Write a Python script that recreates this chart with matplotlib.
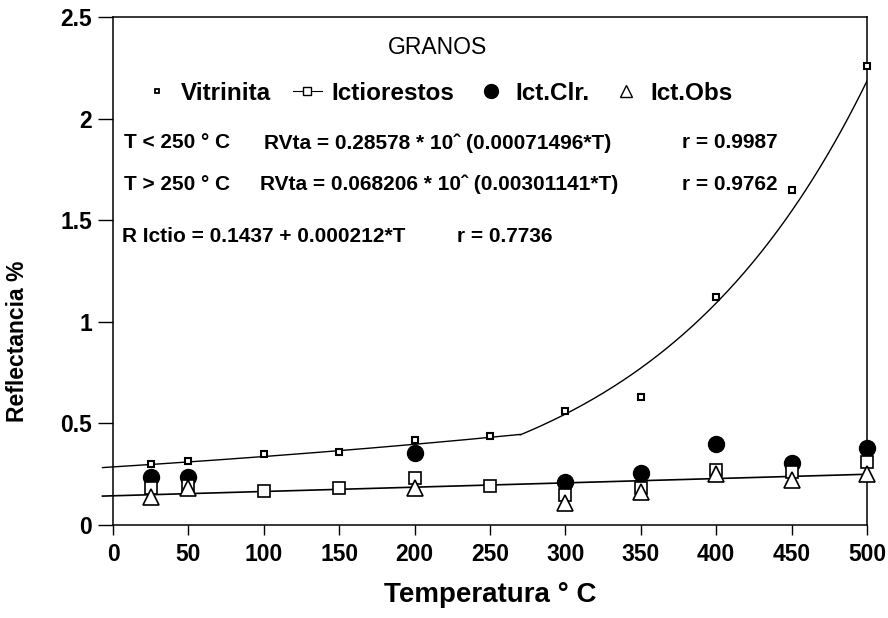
import numpy as np
import matplotlib
matplotlib.use("Agg")
import matplotlib.pyplot as plt
from matplotlib.lines import Line2D

plt.rcParams["font.family"] = ["Liberation Sans", "DejaVu Sans"]

# --- data ---
temps = [25, 50, 100, 150, 200, 250, 300, 350, 400, 450, 500]
vitrinita = [0.30, 0.315, 0.35, 0.36, 0.42, 0.44, 0.56, 0.63, 1.12, 1.65, 2.26]

ict_temps = [25, 50, 100, 150, 200, 250, 300, 350, 400, 450, 500]
ictiorestos = [0.18, 0.19, 0.165, 0.18, 0.23, 0.19, 0.15, 0.18, 0.27, 0.26, 0.31]

clr_temps = [25, 50, 200, 300, 350, 400, 450, 500]
ict_clr = [0.235, 0.235, 0.355, 0.21, 0.255, 0.40, 0.305, 0.38]

obs_temps = [25, 50, 200, 300, 350, 400, 450, 500]
ict_obs = [0.14, 0.18, 0.18, 0.11, 0.16, 0.25, 0.22, 0.25]

# fit coefficients printed on the chart
vt_low = (0.28578, 0.00071496)
vt_high = (0.068206, 0.00301141)
ictio_fit = (0.1437, 0.000212)
t_break = 270

fig = plt.figure(figsize=(8.88, 6.18), dpi=100)
ax = fig.add_axes([0.1273, 0.1505, 0.8491, 0.822])

# fitted curves
t1 = np.linspace(-7, t_break, 200)
ax.plot(t1, vt_low[0] * 10 ** (vt_low[1] * t1), color="black", lw=1.0, clip_on=False)
t2 = np.linspace(t_break, 500, 200)
ax.plot(t2, vt_high[0] * 10 ** (vt_high[1] * t2), color="black", lw=1.0)
t3 = np.linspace(-7, 500, 50)
ax.plot(t3, ictio_fit[0] + ictio_fit[1] * t3, color="black", lw=1.2, clip_on=False)

# points
ax.plot(clr_temps, ict_clr, "o", ms=11.5, mfc="black", mec="black", ls="none",
        zorder=3, clip_on=False)
ax.plot(ict_temps, ictiorestos, "s", ms=8, mfc="white", mec="black", mew=1.2,
        ls="none", zorder=4, clip_on=False)
ax.plot(obs_temps, ict_obs, "^", ms=11.5, mfc="white", mec="black", mew=1.2,
        ls="none", zorder=5, clip_on=False)
ax.plot(temps, vitrinita, "s", ms=4, mfc="white", mec="black", mew=1.5,
        ls="none", zorder=6, clip_on=False)

ax.set_xlim(0, 500)
ax.set_ylim(0, 2.5)
ax.set_xticks(range(0, 501, 50))
ax.set_yticks([0, 0.5, 1, 1.5, 2, 2.5])
ax.set_yticklabels(["0", "0.5", "1", "1.5", "2", "2.5"])
ax.tick_params(axis="y", direction="out", length=11, width=1, labelsize=16.5, pad=4)
ax.tick_params(axis="x", direction="out", length=7, width=1, labelsize=16.5, pad=6)
for lab in ax.get_xticklabels() + ax.get_yticklabels():
    lab.set_fontweight("bold")
for sp in ax.spines.values():
    sp.set_linewidth(1.1)

ax.set_xlabel("Temperatura ° C", fontsize=20, fontweight="bold")
ax.xaxis.set_label_coords(0.5, -0.113)
ax.set_ylabel("Reflectancia %", fontsize=16.5, fontweight="bold")
ax.yaxis.set_label_coords(-0.112, 0.362)

# title and legend inside the plot
ax.text(0.43, 0.94, "GRANOS", transform=ax.transAxes, ha="center", va="center",
        fontsize=16.5)

handles = [
    Line2D([], [], marker="s", ms=3.5, mfc="white", mec="black", mew=1.3, ls="none"),
    Line2D([], [], marker="s", ms=6, mfc="white", mec="black", mew=1, color="black", lw=0.8),
    Line2D([], [], marker="o", ms=10, mfc="black", mec="black", ls="none"),
    Line2D([], [], marker="^", ms=9, mfc="white", mec="black", mew=1, ls="none"),
]
labels = ["Vitrinita", "Ictiorestos", "Ict.Clr.", "Ict.Obs"]
ax.legend(handles, labels, loc="center", bbox_to_anchor=(0.43, 0.85), ncol=4,
          frameon=False, handlelength=1.2, handletextpad=0.4, columnspacing=0.9,
          prop={"size": 17.5, "weight": "bold"})

eq = dict(transform=ax.transAxes, va="center", ha="left", fontsize=15, fontweight="bold")
ax.text(0.014, 0.752, "T < 250 ° C", **eq)
ax.text(0.20, 0.752, "RVta = 0.28578 * 10ˆ (0.00071496*T)", **eq)
ax.text(0.755, 0.752, "r = 0.9987", **eq)
ax.text(0.014, 0.671, "T > 250 ° C", **eq)
ax.text(0.195, 0.671, "RVta = 0.068206 * 10ˆ (0.00301141*T)", **eq)
ax.text(0.755, 0.671, "r = 0.9762", **eq)
ax.text(0.012, 0.567, "R Ictio = 0.1437 + 0.000212*T", **eq)
ax.text(0.456, 0.567, "r = 0.7736", **eq)

fig.savefig("out.png", dpi=100)
